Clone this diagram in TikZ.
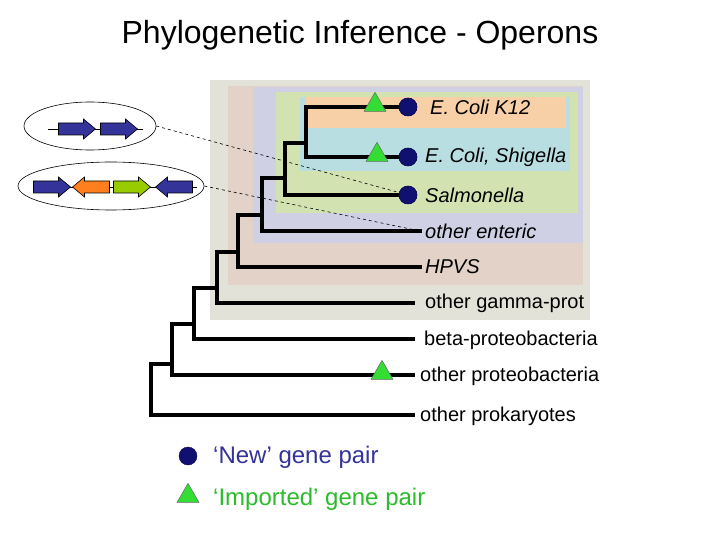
\documentclass[tikz,border=0pt]{standalone}
\usepackage{fontspec}
\setmainfont{Liberation Sans}
\usetikzlibrary{shapes.geometric}
\definecolor{bgray}{HTML}{E2E2D8}
\definecolor{btan}{HTML}{E2D2C8}
\definecolor{blav}{HTML}{D0D0E4}
\definecolor{bgreen}{HTML}{D2E2B0}
\definecolor{bblue}{HTML}{B8DEE2}
\definecolor{borange}{HTML}{F8D0A8}
\definecolor{dot}{HTML}{101070}
\definecolor{tri}{HTML}{33DD33}
\definecolor{gblue}{HTML}{333399}
\definecolor{gorange}{HTML}{FF7F1E}
\definecolor{ggreen}{HTML}{99CC00}
\tikzset{
 br/.style={line width=4pt,line cap=rect},
 lab/.style={anchor=west,inner sep=0pt,font=\fontsize{20}{20}\selectfont},
 ilab/.style={lab,font=\fontsize{20}{20}\selectfont\itshape},
 dotn/.style={circle,fill=dot,draw=dot!70!black,minimum size=18pt,inner sep=0pt},
 trin/.style={isosceles triangle,isosceles triangle apex angle=60,shape border rotate=90,fill=tri,draw=black!60,line width=0.5pt,minimum size=19pt,inner sep=0pt},
 ell/.style={ellipse,draw=black,line width=0.6pt,inner sep=0pt},
 dsh/.style={dashed,line width=0.6pt},
 gene/.pic={\filldraw[line width=0.6pt,draw=black] (-18.5,-6) -- (6.5,-6) -- (6.5,-10) -- (18.5,0) -- (6.5,10) -- (6.5,6) -- (-18.5,6) -- cycle;},
}
\begin{document}
\begin{tikzpicture}[x=1pt,y=-1pt]
\useasboundingbox (0,0) rectangle (720,540);
\fill[white] (0,0) rectangle (720,540);
% backgrounds
\fill[bgray] (210,80) rectangle (590,320);
\fill[btan] (228,86) rectangle (583,285);
\fill[blav] (253,87) rectangle (583,243);
\fill[bgreen] (276,92) rectangle (578,213);
\fill[bblue] (300,97) rectangle (570,171);
\fill[borange] (306,97) rectangle (566,128);
% title
\node (title) at (360,35) {\fontsize{32}{32}\selectfont Phylogenetic Inference - Operons};
% ellipses and genes
\node[ell,minimum width=132pt,minimum height=48pt] (e1) at (90,126) {};
\node[ell,minimum width=186pt,minimum height=48pt] (e2) at (111,186) {};
\coordinate (l1a) at (48,129); \coordinate (l1b) at (143,129);
\draw[line width=0.6pt] (l1a) -- (l1b);
\coordinate (l2a) at (33,187); \coordinate (l2b) at (197,187);
\draw[line width=0.6pt] (l2a) -- (l2b);
\pic[fill=gblue] at (77,129) {gene};
\pic[fill=gblue] at (119,129) {gene};
\pic[fill=gblue] at (52,187) {gene};
\pic[fill=gorange,rotate=180] at (91,187) {gene};
\pic[fill=ggreen] at (132,187) {gene};
\pic[fill=gblue,rotate=180] at (174,187) {gene};
% leaves
\node[dotn] (dk) at (408,107) {};
\node[dotn] (ds) at (408,157) {};
\node[dotn] (dsa) at (408,195) {};
\coordinate (toe) at (420,231);
\coordinate (toh) at (420,267);
\coordinate (tog) at (413,303);
\coordinate (tob) at (413,339);
\coordinate (top) at (413,375);
\coordinate (tpk) at (413,415);
% tree
\draw[br] (dk) -- (306,107) -- (306,157) -- (ds);
\draw[br] (306,143) -- (285,143) -- (285,195) -- (dsa);
\draw[br] (285,178) -- (262,178) -- (262,231) -- (toe);
\draw[br] (262,215) -- (238,215) -- (238,267) -- (toh);
\draw[br] (238,252) -- (217,252) -- (217,303) -- (tog);
\draw[br] (217,288) -- (194,288) -- (194,339) -- (tob);
\draw[br] (194,324) -- (172,324) -- (172,375) -- (top);
\draw[br] (172,364) -- (151,364) -- (151,415) -- (tpk);
\node[dotn] at (dk) {};
\node[dotn] at (ds) {};
\node[dotn] at (dsa) {};
\node[trin] (tk) at (375,105) {};
\node[trin] (ts) at (377,155) {};
\node[trin] (tp) at (382,373) {};
% dashed
\draw[dsh] (e1.east) -- (dsa);
\draw[dsh] (e2.east) -- (toe);
% labels
\node[ilab] (lk) at (430,107) {E. Coli K12};
\node[ilab] (ls) at (425,157) {E. Coli, Shigella};
\node[ilab] (lsa) at (425,195) {Salmonella};
\node[ilab] (le) at (425,231) {other enteric};
\node[ilab] (lh) at (425,267) {HPVS};
\node[lab] (lg) at (425,303) {other gamma-prot};
\node[lab] (lb) at (424,340) {beta-proteobacteria};
\node[lab] (lo) at (420,376) {other proteobacteria};
\node[lab] (lp) at (420,416) {other prokaryotes};
% legend
\node[dotn] (ld) at (188,456) {};
\node[lab,text=gblue] (ldt) at (213,457) {\fontsize{24}{24}\selectfont ‘New’ gene pair};
\node[trin] (lt) at (188,496) {};
\node[lab,text=tri!85!black] (ltt) at (213,499) {\fontsize{24}{24}\selectfont ‘Imported’ gene pair};
\end{tikzpicture}
\end{document}
